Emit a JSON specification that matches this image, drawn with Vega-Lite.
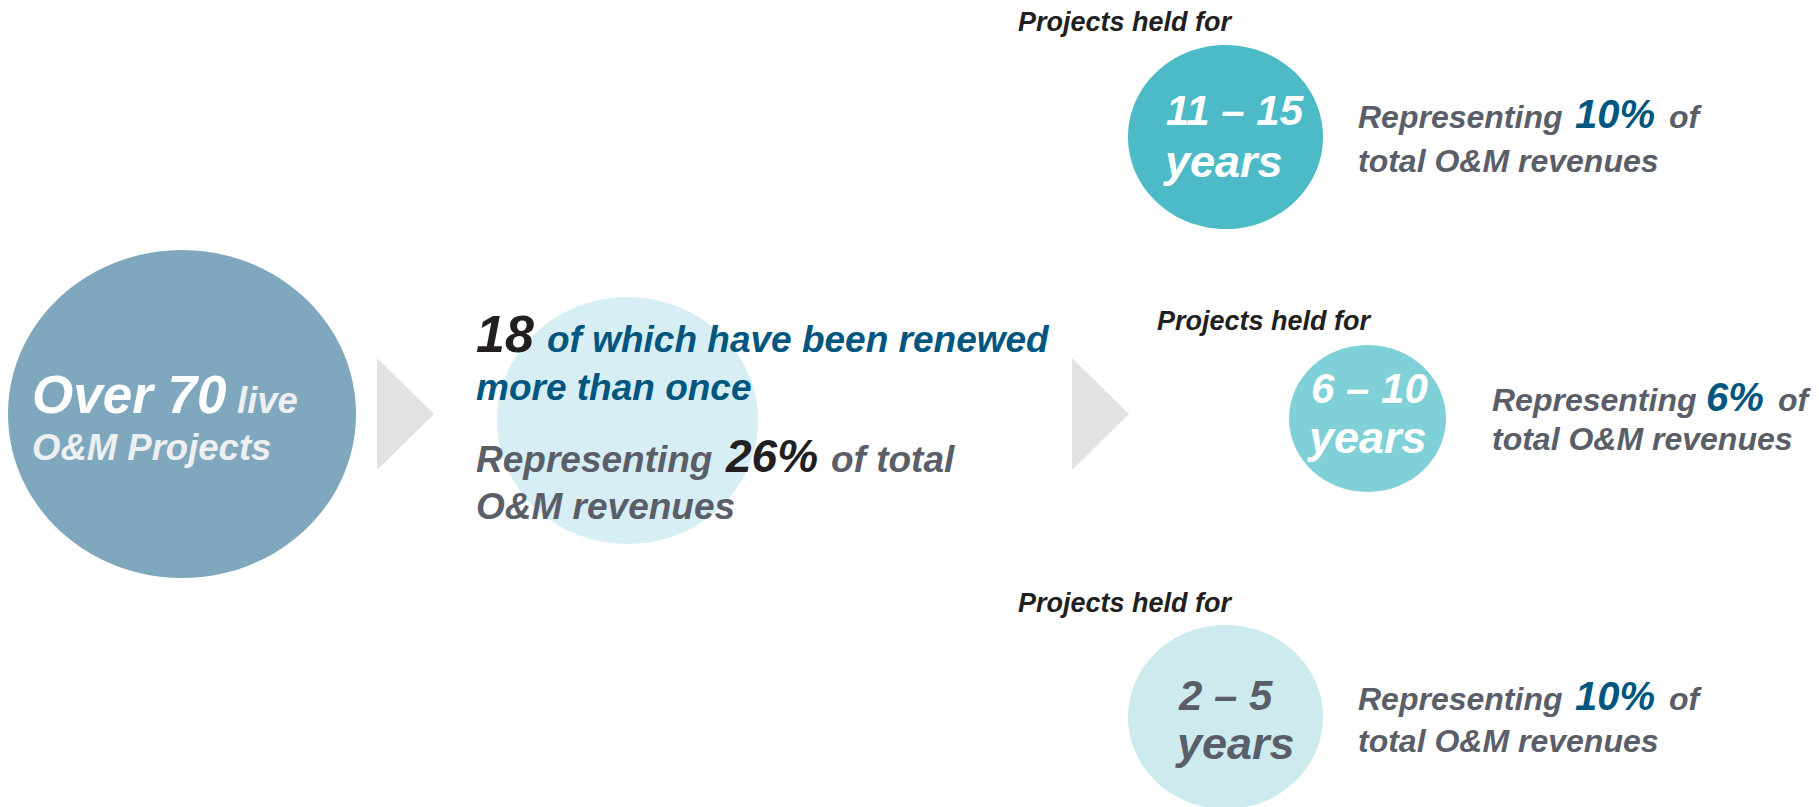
{
  "$schema": "https://vega.github.io/schema/vega-lite/v6.json",
  "width": 1819,
  "height": 807,
  "padding": 0,
  "autosize": {"type": "none"},
  "background": "#ffffff",
  "config": {"view": {"stroke": null}},
  "data": {"values": [
    {"role": "e_all", "x": 182, "y": 414, "text": ""},
    {"role": "e_renewed", "x": 627.5, "y": 420.5, "text": ""},
    {"role": "e_1115", "x": 1225.5, "y": 137, "text": ""},
    {"role": "e_610", "x": 1367.5, "y": 418.5, "text": ""},
    {"role": "e_25", "x": 1225.5, "y": 717, "text": ""},
    {"role": "arrow", "x": 405.5, "y": 414, "text": ""},
    {"role": "arrow", "x": 1100.5, "y": 414, "text": ""},
    {"role": "t_white_xl", "x": 32, "y": 413, "text": "Over 70"},
    {"role": "t_offwhite", "x": 237, "y": 413, "text": "live"},
    {"role": "t_offwhite", "x": 32, "y": 460, "text": "O&M Projects"},
    {"role": "t_black_xl", "x": 476, "y": 352, "text": "18"},
    {"role": "t_blue_m", "x": 547, "y": 352, "text": "of which have been renewed"},
    {"role": "t_blue_m", "x": 476, "y": 400, "text": "more than once"},
    {"role": "t_gray_m", "x": 476, "y": 472, "text": "Representing"},
    {"role": "t_black_l", "x": 726, "y": 472, "text": "26%"},
    {"role": "t_gray_m", "x": 831, "y": 472, "text": "of total"},
    {"role": "t_gray_m", "x": 476, "y": 519, "text": "O&M revenues"},
    {"role": "t_head", "x": 1018, "y": 31, "text": "Projects held for"},
    {"role": "t_white_l", "x": 1166, "y": 125, "text": "11 – 15"},
    {"role": "t_white_y", "x": 1165, "y": 177, "text": "years"},
    {"role": "t_gray_s", "x": 1358, "y": 128, "text": "Representing"},
    {"role": "t_blue_l", "x": 1575, "y": 128, "text": "10%"},
    {"role": "t_gray_s", "x": 1669, "y": 128, "text": "of"},
    {"role": "t_gray_s", "x": 1358, "y": 172, "text": "total O&M revenues"},
    {"role": "t_head", "x": 1157, "y": 330, "text": "Projects held for"},
    {"role": "t_white_l", "x": 1311, "y": 403, "text": "6 – 10"},
    {"role": "t_white_y", "x": 1309, "y": 453, "text": "years"},
    {"role": "t_gray_s", "x": 1492, "y": 411, "text": "Representing"},
    {"role": "t_blue_l", "x": 1706, "y": 411, "text": "6%"},
    {"role": "t_gray_s", "x": 1778, "y": 411, "text": "of"},
    {"role": "t_gray_s", "x": 1492, "y": 450, "text": "total O&M revenues"},
    {"role": "t_head", "x": 1018, "y": 612, "text": "Projects held for"},
    {"role": "t_gray_l", "x": 1179, "y": 710, "text": "2 – 5"},
    {"role": "t_gray_y", "x": 1177, "y": 759, "text": "years"},
    {"role": "t_gray_s", "x": 1358, "y": 710, "text": "Representing"},
    {"role": "t_blue_l", "x": 1575, "y": 710, "text": "10%"},
    {"role": "t_gray_s", "x": 1669, "y": 710, "text": "of"},
    {"role": "t_gray_s", "x": 1358, "y": 752, "text": "total O&M revenues"}
  ]},
  "encoding": {
    "x": {"field": "x", "type": "quantitative", "axis": null, "scale": {"domain": [0, 1819], "range": [0, 1819], "zero": false, "nice": false}},
    "y": {"field": "y", "type": "quantitative", "axis": null, "scale": {"domain": [0, 807], "range": [0, 807], "zero": false, "nice": false}}
  },
  "layer": [
    {"transform": [{"filter": "datum.role == 'e_all'"}],
     "mark": {"type": "point", "filled": true, "opacity": 1, "strokeWidth": 0, "size": 121104, "color": "#7FA8BE", "shape": "M -1 0 A 1 0.9425 0 1 1 1 0 A 1 0.9425 0 1 1 -1 0 Z"}},
    {"transform": [{"filter": "datum.role == 'e_renewed'"}],
     "mark": {"type": "point", "filled": true, "opacity": 1, "strokeWidth": 0, "size": 68121, "color": "#D6EEF4", "shape": "M -1 0 A 1 0.9464 0 1 1 1 0 A 1 0.9464 0 1 1 -1 0 Z"}},
    {"transform": [{"filter": "datum.role == 'e_1115'"}],
     "mark": {"type": "point", "filled": true, "opacity": 1, "strokeWidth": 0, "size": 38025, "color": "#4DBBC7", "shape": "M -1 0 A 1 0.9436 0 1 1 1 0 A 1 0.9436 0 1 1 -1 0 Z"}},
    {"transform": [{"filter": "datum.role == 'e_610'"}],
     "mark": {"type": "point", "filled": true, "opacity": 1, "strokeWidth": 0, "size": 24649, "color": "#7FD0D7", "shape": "M -1 0 A 1 0.936 0 1 1 1 0 A 1 0.936 0 1 1 -1 0 Z"}},
    {"transform": [{"filter": "datum.role == 'e_25'"}],
     "mark": {"type": "point", "filled": true, "opacity": 1, "strokeWidth": 0, "size": 38025, "color": "#CDEBEF", "shape": "M -1 0 A 1 0.9436 0 1 1 1 0 A 1 0.9436 0 1 1 -1 0 Z"}},
    {"transform": [{"filter": "datum.role == 'arrow'"}],
     "mark": {"type": "point", "filled": true, "opacity": 1, "strokeWidth": 0, "size": 12544, "color": "#E1E2E4", "shape": "M -0.509 -1 L 0.509 0 L -0.509 1 Z"}},
    {"transform": [{"filter": "datum.role == 't_white_xl'"}],
     "mark": {"type": "text", "align": "left", "baseline": "alphabetic", "font": "Liberation Sans", "fontStyle": "italic", "fontWeight": "bold", "fontSize": 53, "color": "#FFFFFF"},
     "encoding": {"text": {"field": "text"}}},
    {"transform": [{"filter": "datum.role == 't_offwhite'"}],
     "mark": {"type": "text", "align": "left", "baseline": "alphabetic", "font": "Liberation Sans", "fontStyle": "italic", "fontWeight": "bold", "fontSize": 36.5, "color": "#EEEFF1"},
     "encoding": {"text": {"field": "text"}}},
    {"transform": [{"filter": "datum.role == 't_black_xl'"}],
     "mark": {"type": "text", "align": "left", "baseline": "alphabetic", "font": "Liberation Sans", "fontStyle": "italic", "fontWeight": "bold", "fontSize": 52, "color": "#231F20"},
     "encoding": {"text": {"field": "text"}}},
    {"transform": [{"filter": "datum.role == 't_black_l'"}],
     "mark": {"type": "text", "align": "left", "baseline": "alphabetic", "font": "Liberation Sans", "fontStyle": "italic", "fontWeight": "bold", "fontSize": 46, "color": "#231F20"},
     "encoding": {"text": {"field": "text"}}},
    {"transform": [{"filter": "datum.role == 't_blue_m'"}],
     "mark": {"type": "text", "align": "left", "baseline": "alphabetic", "font": "Liberation Sans", "fontStyle": "italic", "fontWeight": "bold", "fontSize": 37, "color": "#00567E"},
     "encoding": {"text": {"field": "text"}}},
    {"transform": [{"filter": "datum.role == 't_gray_m'"}],
     "mark": {"type": "text", "align": "left", "baseline": "alphabetic", "font": "Liberation Sans", "fontStyle": "italic", "fontWeight": "bold", "fontSize": 37, "color": "#5A5E69"},
     "encoding": {"text": {"field": "text"}}},
    {"transform": [{"filter": "datum.role == 't_head'"}],
     "mark": {"type": "text", "align": "left", "baseline": "alphabetic", "font": "Liberation Sans", "fontStyle": "italic", "fontWeight": "bold", "fontSize": 27, "color": "#231F20"},
     "encoding": {"text": {"field": "text"}}},
    {"transform": [{"filter": "datum.role == 't_white_l'"}],
     "mark": {"type": "text", "align": "left", "baseline": "alphabetic", "font": "Liberation Sans", "fontStyle": "italic", "fontWeight": "bold", "fontSize": 42, "color": "#FFFFFF"},
     "encoding": {"text": {"field": "text"}}},
    {"transform": [{"filter": "datum.role == 't_white_y'"}],
     "mark": {"type": "text", "align": "left", "baseline": "alphabetic", "font": "Liberation Sans", "fontStyle": "italic", "fontWeight": "bold", "fontSize": 45, "color": "#FFFFFF"},
     "encoding": {"text": {"field": "text"}}},
    {"transform": [{"filter": "datum.role == 't_gray_l'"}],
     "mark": {"type": "text", "align": "left", "baseline": "alphabetic", "font": "Liberation Sans", "fontStyle": "italic", "fontWeight": "bold", "fontSize": 42, "color": "#5A5E69"},
     "encoding": {"text": {"field": "text"}}},
    {"transform": [{"filter": "datum.role == 't_gray_y'"}],
     "mark": {"type": "text", "align": "left", "baseline": "alphabetic", "font": "Liberation Sans", "fontStyle": "italic", "fontWeight": "bold", "fontSize": 45, "color": "#5A5E69"},
     "encoding": {"text": {"field": "text"}}},
    {"transform": [{"filter": "datum.role == 't_gray_s'"}],
     "mark": {"type": "text", "align": "left", "baseline": "alphabetic", "font": "Liberation Sans", "fontStyle": "italic", "fontWeight": "bold", "fontSize": 32, "color": "#5A5E69"},
     "encoding": {"text": {"field": "text"}}},
    {"transform": [{"filter": "datum.role == 't_blue_l'"}],
     "mark": {"type": "text", "align": "left", "baseline": "alphabetic", "font": "Liberation Sans", "fontStyle": "italic", "fontWeight": "bold", "fontSize": 40, "color": "#00567E"},
     "encoding": {"text": {"field": "text"}}}
  ]
}
